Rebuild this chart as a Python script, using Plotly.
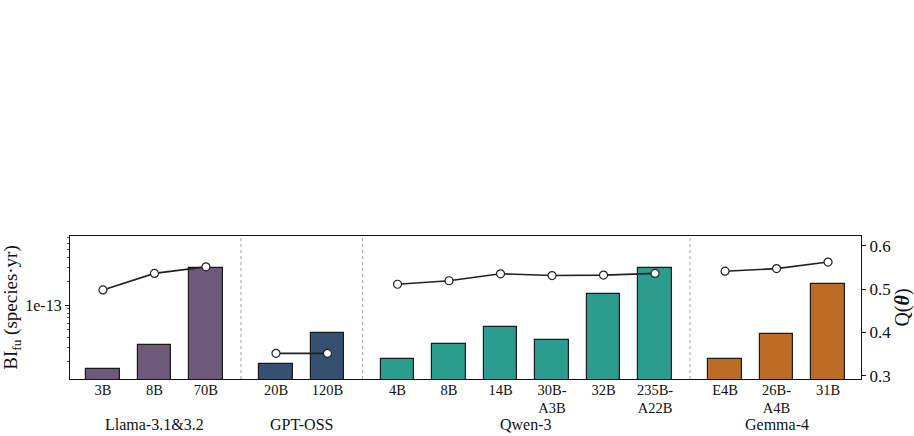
import plotly.graph_objects as go

# ---------------- data ----------------
groups = ["Llama-3.1&3.2", "GPT-OSS", "Qwen-3", "Gemma-4"]
models = [
    ["3B", "8B", "70B"],
    ["20B", "120B"],
    ["4B", "8B", "14B", "30B-<br>A3B", "32B", "235B-<br>A22B"],
    ["E4B", "26B-<br>A4B", "31B"],
]
bi_values = [
    [1.58e-14, 3.19e-14, 2.95e-13],
    [1.83e-14, 4.54e-14],
    [2.15e-14, 3.25e-14, 5.36e-14, 3.65e-14, 1.38e-13, 2.92e-13],
    [2.13e-14, 4.34e-14, 1.85e-13],
]
q_values = [
    [0.498, 0.536, 0.551],
    [0.352, 0.352],
    [0.511, 0.519, 0.535, 0.531, 0.532, 0.536],
    [0.541, 0.547, 0.562],
]
colors = ["#6d597a", "#355070", "#2a9d8f", "#bc6c25"]

# ---------------- layout helpers ----------------
GROUP_GAP = 1.36
FONT = "Liberation Serif, Times New Roman, serif"

positions = []
start = 0.0
for mods in models:
    positions.append([start + i for i in range(len(mods))])
    start = positions[-1][-1] + GROUP_GAP

fig = go.Figure()

for g, (pos, vals, col) in enumerate(zip(positions, bi_values, colors)):
    fig.add_trace(go.Bar(
        x=pos, y=vals, width=0.65,
        marker=dict(color=col, line=dict(color="#1a1a1a", width=1.2)),
        showlegend=False, yaxis="y",
    ))

for pos, qs in zip(positions, q_values):
    fig.add_trace(go.Scatter(
        x=pos, y=qs, mode="lines+markers", yaxis="y2",
        line=dict(color="#222222", width=1.6),
        marker=dict(size=8, color="white", line=dict(color="#222222", width=1.2)),
        showlegend=False,
    ))

tickvals = [p for pos in positions for p in pos]
ticktext = [m for mods in models for m in mods]

shapes = []
for a, b in zip(positions[:-1], positions[1:]):
    xm = (a[-1] + b[0]) / 2
    shapes.append(dict(type="line", xref="x", yref="paper", x0=xm, x1=xm, y0=0, y1=1,
                       line=dict(color="#b0b0b0", width=1.2, dash="dot"), layer="below"))

annotations = []
for pos, name in zip(positions, groups):
    annotations.append(dict(
        x=(pos[0] + pos[-1]) / 2, xref="x", y=-0.318, yref="paper",
        text=name, showarrow=False, yanchor="middle",
        font=dict(family=FONT, size=16, color="#111"),
    ))

minor_vals = [k * 1e-14 for k in range(2, 10)] + [k * 1e-13 for k in range(2, 8)]

fig.update_layout(
    width=914, height=436,
    margin=dict(l=70, r=53, t=236, b=57),
    paper_bgcolor="white", plot_bgcolor="white",
    bargap=0, font=dict(family=FONT, size=15, color="#111"),
    shapes=shapes, annotations=annotations,
    xaxis=dict(
        range=[-0.64, positions[-1][-1] + 0.64], automargin=False,
        tickmode="array", tickvals=tickvals, ticktext=ticktext,
        ticks="", ticklabelstandoff=-3,
        showline=True, linecolor="#111", linewidth=1.3, mirror=True,
        showgrid=False, zeroline=False,
        tickfont=dict(family=FONT, size=14.5, color="#111"),
    ),
    yaxis=dict(
        type="log", range=[-13.921, -12.134], automargin=False,
        tickmode="array", tickvals=[1e-13], ticktext=["1e-13"],
        ticks="outside", ticklen=4, tickcolor="#111",
        minor=dict(tickmode="array", tickvals=minor_vals, ticks="outside",
                   ticklen=2, tickcolor="#555", showgrid=False),
        showline=True, linecolor="#111", linewidth=1.3, mirror=True,
        showgrid=False, zeroline=False,
        tickfont=dict(family=FONT, size=16, color="#111"),
        title=dict(text="BI<sub>fu</sub> (species·yr)", standoff=6,
                   font=dict(family=FONT, size=19, color="#111")),
    ),
    yaxis2=dict(
        overlaying="y", side="right", range=[0.293, 0.622], automargin=False,
        tickmode="array", tickvals=[0.3, 0.4, 0.5, 0.6],
        ticktext=["0.3", "0.4", "0.5", "0.6"],
        ticks="outside", ticklen=4, tickcolor="#111",
        showline=True, linecolor="#111", linewidth=1.3,
        showgrid=False, zeroline=False,
        tickfont=dict(family=FONT, size=17, color="#111"),
        title=dict(text="Q(<b><i>θ</i></b>)", standoff=2,
                   font=dict(family=FONT, size=20, color="#111")),
    ),
)

fig.write_html("out.html")
